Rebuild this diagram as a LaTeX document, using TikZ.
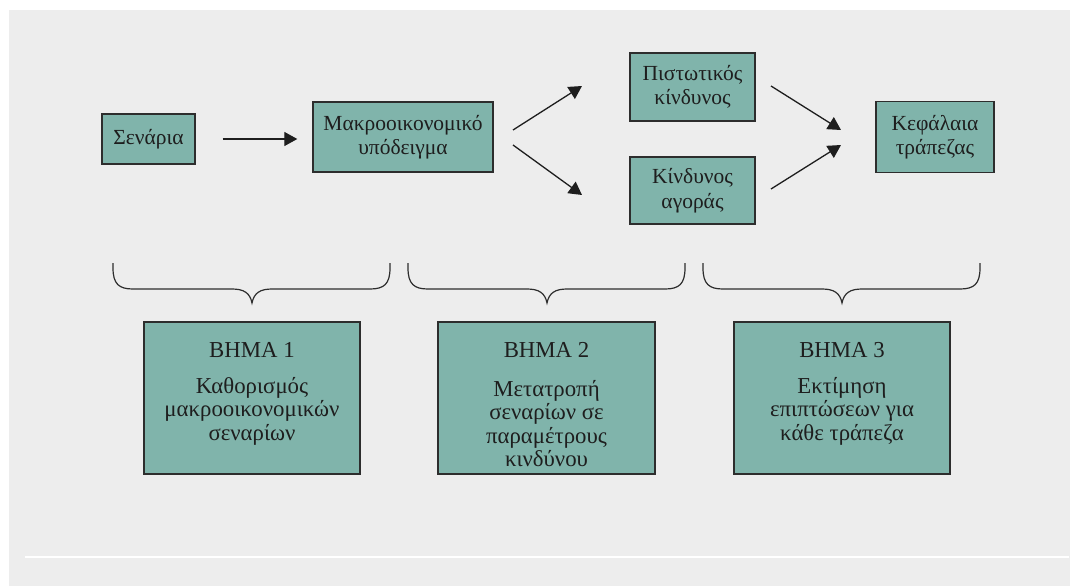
\documentclass[tikz,border=0pt]{standalone}
\usepackage{fontspec}
\setmainfont{Liberation Serif}
\usetikzlibrary{arrows.meta,calc}

\definecolor{panelgray}{RGB}{237,237,237}
\definecolor{boxfill}{RGB}{128,180,171}
\definecolor{boxline}{RGB}{45,45,45}
\definecolor{inkcol}{RGB}{30,30,30}

% curly brace over a step: left end, tip, right end (x values)
\newcommand{\drawbrace}[3]{%
  \draw[bracestyle] (#1,263) -- (#1,268)
    .. controls (#1,284) and (#1+6,289) .. (#1+20,289)
    -- (#2-20,289)
    .. controls (#2-8,289) and (#2-2,293) .. (#2,303)
    .. controls (#2+2,293) and (#2+8,289) .. (#2+20,289)
    -- (#3-20,289)
    .. controls (#3-6,289) and (#3,284) .. (#3,268) -- (#3,263);}

\begin{document}
\begin{tikzpicture}[x=1pt,y=-1pt,
  box/.style={draw=boxline,line width=1.4pt,fill=boxfill,inner sep=0pt,
    text=inkcol,align=center,font=\fontsize{21.5}{24.5}\selectfont},
  steptext/.style={text=inkcol,align=center,inner sep=0pt,
    font=\fontsize{22.8}{23.5}\selectfont},
  flow/.style={draw=inkcol,line width=1.3pt,-{Triangle[length=13pt,width=14pt]}},
  bracestyle/.style={draw=boxline,line width=1.2pt}]

\useasboundingbox (0,0) rectangle (1070,586);
\fill[panelgray] (9,10) rectangle (1070,586);
\draw[white,line width=2pt] (25,557) -- (1069,557);

% top row
\node[box,minimum width=93pt,minimum height=50pt] (sen) at (148.5,139) {Σενάρια};
\node[box,minimum width=180pt,minimum height=70pt] (mak) at (403,137) {Μακροοικονομικό\\υπόδειγμα};
\node[box,minimum width=125pt,minimum height=68pt] (pis) at (692.5,87) {Πιστωτικός\\κίνδυνος};
\node[box,minimum width=125pt,minimum height=67pt] (kin) at (692.5,190.5) {Κίνδυνος\\αγοράς};
\node[box,minimum width=118pt,minimum height=71pt] (kef) at (935,137) {Κεφάλαια\\τράπεζας};

% arrow end points
\coordinate (m1) at (513,130);
\coordinate (m2) at (582,86);
\coordinate (m3) at (513,145);
\coordinate (m4) at (582,195);
\coordinate (k1) at (771,86);
\coordinate (k2) at (841,130);
\coordinate (k3) at (771,189);
\coordinate (k4) at (841,145);

\draw[flow,shorten <=27pt,shorten >=15pt] (sen.east) -- (sen.east -| mak.west);
\draw[flow] (m1) -- (m2);
\draw[flow] (m3) -- (m4);
\draw[flow] (k1) -- (k2);
\draw[flow] (k3) -- (k4);

% braces
\drawbrace{113}{252}{390}
\drawbrace{408}{547}{685}
\drawbrace{703}{842}{980}

% steps
\node[box,minimum width=216pt,minimum height=152pt] (s1) at (252,398) {};
\node[box,minimum width=217pt,minimum height=152pt] (s2) at (546.5,398) {};
\node[box,minimum width=216pt,minimum height=152pt] (s3) at (842,398) {};

\node[steptext] (h1) at (252,350) {ΒΗΜΑ 1};
\node[steptext] (h2) at (546.5,350) {ΒΗΜΑ 2};
\node[steptext] (h3) at (842,350) {ΒΗΜΑ 3};

\node[steptext] (b1) at (252,411) {Καθορισμός\\μακροοικονομικών\\σεναρίων};
\node[steptext] (b2) at (546.5,423.5) {Μετατροπή\\σεναρίων σε\\παραμέτρους\\κινδύνου};
\node[steptext] (b3) at (842,411) {Εκτίμηση\\επιπτώσεων για\\κάθε τράπεζα};
\end{tikzpicture}
\end{document}
